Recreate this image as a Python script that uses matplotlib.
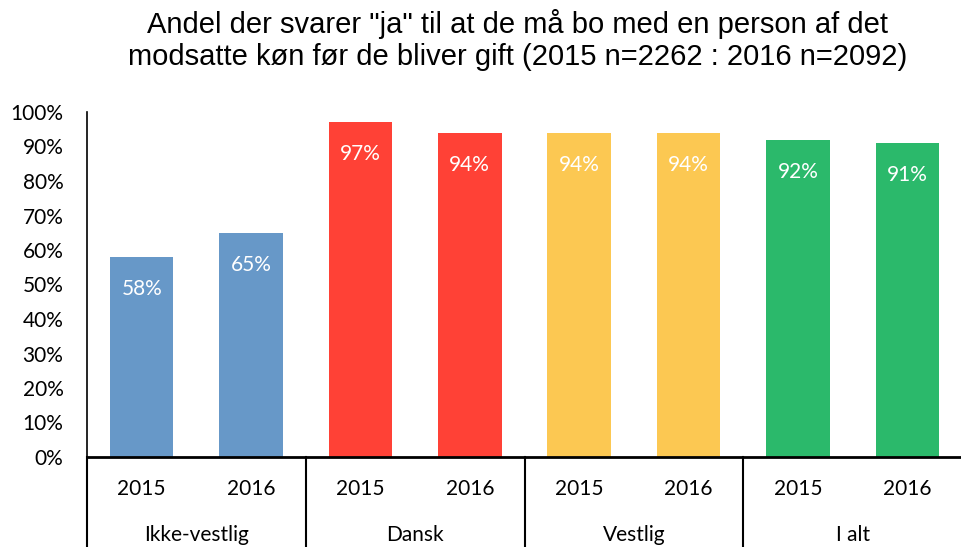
import matplotlib.pyplot as plt
import matplotlib.transforms as mtransforms

groups = ['Ikke-vestlig', 'Dansk', 'Vestlig', 'I alt']
years = ['2015', '2016']
values = [58, 65, 97, 94, 94, 94, 92, 91]
colors = ['#6798C8', '#6798C8', '#FF4136', '#FF4136',
          '#FCC852', '#FCC852', '#2BB96B', '#2BB96B']
yticks = [0, 10, 20, 30, 40, 50, 60, 70, 80, 90, 100]

fig = plt.figure(figsize=(9.62, 5.47), dpi=100)
ax = fig.add_axes([87 / 962, 90 / 547, 1 - 87 / 962, 345 / 547])

x = list(range(len(values)))
bars = ax.bar(x, values, width=0.58, color=colors)

for xi, v in zip(x, values):
    ax.annotate(f'{v}%', (xi, v), xytext=(0, -23), textcoords='offset points',
                ha='center', va='center', color='white', fontsize=15, family='Lato')

ax.set_xlim(-0.5, len(values) - 0.5)
ax.set_ylim(0, 100)
ax.set_yticks(yticks)
ax.set_yticklabels([f'{t}%' for t in yticks], family='Lato', fontsize=15)
ax.tick_params(axis='y', length=0, pad=17)
ax.set_xticks([])

for s in ['top', 'right']:
    ax.spines[s].set_visible(False)
ax.spines['left'].set_linewidth(1.2)
ax.spines['bottom'].set_linewidth(2)

trans = mtransforms.blended_transform_factory(ax.transData, ax.transAxes)
for xi in x:
    ax.text(xi, -0.093, years[xi % 2], transform=trans, ha='center', va='center',
            family='Lato', fontsize=15)
for gi, g in enumerate(groups):
    ax.text(gi * 2 + 0.5, -0.227, g, transform=trans, ha='center', va='center',
            family='Lato', fontsize=15)
for b in [-0.5, 1.5, 3.5, 5.5]:
    ax.plot([b, b], [0, -0.3], transform=trans, color='black', lw=1.5, clip_on=False)

fig.text(0.538, 0.927, 'Andel der svarer "ja" til at de må bo med en person af det\n'
         'modsatte køn før de bliver gift (2015 n=2262 : 2016 n=2092)',
         ha='center', va='center', fontsize=21, family='Liberation Sans', linespacing=1.22)

fig.savefig('out.png', dpi=100)
